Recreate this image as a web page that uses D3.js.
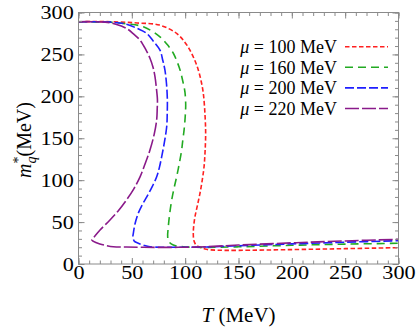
<!DOCTYPE html>
<html>
<head>
<meta charset="utf-8">
<script src="https://cdn.jsdelivr.net/npm/d3@7/dist/d3.min.js"></script>
<style>
body { margin: 0; background: #fff; }
text { font-family: "Liberation Serif", "Times New Roman", serif; }
</style>
</head>
<body>
<div id="main"></div>
<script>
var tempTicks = [0, 50, 100, 150, 200, 250, 300];
var massTicks = [0, 50, 100, 150, 200, 250, 300];
var muValues = ["100", "160", "200", "220"];

// [T, m*] points along each curve
var mu100 = [[0,289],[30,289],[55,287.5],[76,285],[92,275],[100,264],[104.5,255],[109,243],[112.3,231.5],[115,218],[117,203.7],[118.6,178],[119.2,156],[118.7,135],[117.7,116],[116,100],[113.9,84.4],[111.5,70],[109.2,56.4],[108,45],[107.6,36.6],[108.2,28],[110,23],[114,20],[120,17.5],[130,16.5],[150,16.3],[200,17.2],[250,18.3],[300,19.5]];
var mu160 = [[0,289],[29.5,288.4],[45,286.5],[60.8,283],[76.4,271],[83,262],[88.9,251.4],[92.5,241],[95.2,231.5],[97.8,218],[99.8,205],[100.5,190],[100,175],[99,160],[97.8,148],[96.7,136],[94.5,120],[92,104],[89.5,90],[87.4,76.4],[85.5,60],[84.2,44.5],[83.6,33],[84.5,27],[88.9,22.7],[98.3,20.6],[110,20],[120,19.8],[150,20.5],[200,22.3],[250,23.7],[300,24.7]];
var mu200 = [[0,289],[30,288.5],[45,286],[55,281],[64,275],[70,266],[76.4,255],[79,243],[81,231.5],[82.5,215],[83.3,196],[83.2,180],[82.7,164],[80.5,145],[78,128],[75.8,115],[73.3,104],[69,92],[64,80],[59.5,70],[56,60.5],[53,48],[51.4,36.6],[51,32],[52.5,27],[56,24.7],[62,22],[67,20.6],[80,20],[100,20],[120,20.3],[150,21.8],[200,24],[250,26],[300,27.8]];
var mu220 = [[0,289],[25,288.5],[35,286],[45,281],[52,274],[57.7,267],[63,256],[67,245.5],[69.8,235],[71.7,223.5],[73,210],[74,196],[73.8,185],[73.3,172],[71,155],[67,136],[62,118],[57.7,104],[52,90],[45,76.4],[37,63],[29.5,52.5],[20.2,40.6],[14.5,32],[12.4,29],[14,27],[20,23.9],[26,22],[32.6,20.6],[45,20.2],[60.8,19.9],[80,19.8],[100,20],[120,20.6],[150,22.6],[200,25.2],[250,27.5],[300,29.5]];

var series = [mu100, mu160, mu200, mu220];
var colors = ["#ff2020", "#22aa22", "#1f1fff", "#8a1a8a"];
var dashes = ["4.5,2.5", "8,5", "9,3", "14,3"];

var plotL = 78.5, plotR = 398.5, plotT = 12.5, plotB = 264;
var svg = d3.select("#main").append("svg")
  .attr("width", 416)
  .attr("height", 328);//create canvas

var x = d3.scaleLinear().domain([0, 300]).range([plotL, plotR]);
var y = d3.scaleLinear().domain([0, 300]).range([plotB, plotT]);

svg.append("clipPath").attr("id", "clip").append("rect")
  .attr("x", plotL).attr("y", plotT)
  .attr("width", plotR - plotL).attr("height", plotB - plotT);

// curves
var line = d3.line()
  .x(function(d) { return x(d[0]); })
  .y(function(d) { return y(d[1]); })
  .curve(d3.curveCatmullRom.alpha(0.5));
svg.append("g").attr("clip-path", "url(#clip)")
  .selectAll("path").data(series).enter().append("path")
  .attr("d", line)
  .attr("fill", "none")
  .attr("stroke", function(d, i) { return colors[i]; })
  .attr("stroke-width", 1.6)
  .attr("stroke-dasharray", function(d, i) { return dashes[i]; });//draw curves

// frame ticks (inward, on all four sides)
var minor = d3.range(0, 301, 10);
function ticks(axis, tr) {
  var g = svg.append("g").attr("transform", tr).call(axis);
  g.select(".domain").remove();
  g.selectAll("line").attr("stroke", "#8a8a8a");
  return g;
}
ticks(d3.axisBottom(x).tickValues(minor).tickSize(-3.5).tickFormat(""), "translate(0," + plotB + ")");
ticks(d3.axisTop(x).tickValues(minor).tickSize(-3.5).tickFormat(""), "translate(0," + plotT + ")");
ticks(d3.axisLeft(y).tickValues(minor).tickSize(-3.5).tickFormat(""), "translate(" + plotL + ",0)");
ticks(d3.axisRight(y).tickValues(minor).tickSize(-3.5).tickFormat(""), "translate(" + plotR + ",0)");
ticks(d3.axisTop(x).tickValues(tempTicks).tickSize(-6).tickFormat(""), "translate(0," + plotT + ")");
ticks(d3.axisRight(y).tickValues(massTicks).tickSize(-6).tickFormat(""), "translate(" + plotR + ",0)");

ticks(d3.axisBottom(x).tickValues(tempTicks).tickSize(-6).tickPadding(2).tickFormat(d3.format("d")), "translate(0," + plotB + ")");
ticks(d3.axisLeft(y).tickValues(massTicks).tickSize(-6).tickPadding(4).tickFormat(d3.format("d")), "translate(" + plotL + ",0)");
svg.selectAll(".tick text")
  .attr("fill", "#000")
  .style("font-family", "'Liberation Serif', serif")
  .style("font-size", "19px")
  .attr("transform", "scale(1.17,1)");

svg.append("rect")
  .attr("x", plotL).attr("y", plotT)
  .attr("width", plotR - plotL).attr("height", plotB - plotT)
  .attr("fill", "none")
  .attr("stroke", "#8a8a8a")
  .attr("stroke-width", 1);//frame

// axis labels
var xl = svg.append("text")
  .attr("x", (plotL + plotR) / 2).attr("y", 321.5)
  .style("text-anchor", "middle")
  .style("font-size", "21px");
xl.append("tspan").style("font-style", "italic").text("T");
xl.append("tspan").text(" (MeV)");

var yl = svg.append("text")
  .attr("transform", "translate(30.5,140) rotate(-90)")
  .style("text-anchor", "middle")
  .style("font-size", "20px");
yl.append("tspan").style("font-style", "italic").text("m");
yl.append("tspan").attr("dy", -8).style("font-size", "14px").text("*");
yl.append("tspan").attr("dx", -7).attr("dy", 13).style("font-size", "14px").style("font-style", "italic").text("q");
yl.append("tspan").attr("dy", -5).text("(MeV)");

// legend
var legend = svg.selectAll(".legend").data(muValues).enter().append("g")
  .attr("class", "legend")
  .attr("transform", function(d, i) { return "translate(0," + (46.7 + i * 20.6) + ")"; });
legend.append("line")
  .attr("x1", 345).attr("x2", 388)
  .attr("stroke", function(d, i) { return colors[i]; })
  .attr("stroke-width", 1.6)
  .attr("stroke-dasharray", function(d, i) { return dashes[i]; });
var lt = legend.append("text")
  .attr("x", 337).attr("y", 6.3)
  .style("text-anchor", "end")
  .style("font-size", "18px");
lt.append("tspan").style("font-style", "italic").text("\u03bc");
lt.append("tspan").text(function(d) { return " = " + d + " MeV"; });
</script>
</body>
</html>
